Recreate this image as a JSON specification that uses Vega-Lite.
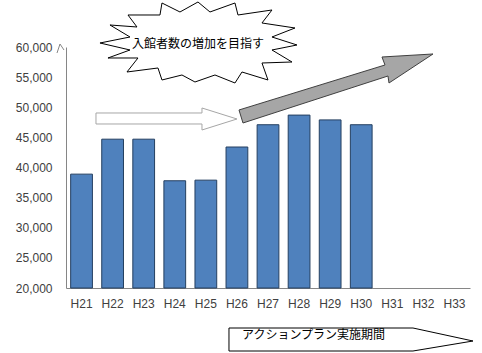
{
  "$schema": "https://vega.github.io/schema/vega-lite/v6.json",
  "width": 404,
  "height": 241,
  "autosize": {"type": "none"},
  "padding": {"left": 66, "top": 47, "right": 12, "bottom": 65},
  "background": "white",
  "config": {"view": {"stroke": null}},
  "layer": [
    {
      "data": {"values": [
        {"year": "H21", "value": 38900},
        {"year": "H22", "value": 44700},
        {"year": "H23", "value": 44700},
        {"year": "H24", "value": 37800},
        {"year": "H25", "value": 37900},
        {"year": "H26", "value": 43400},
        {"year": "H27", "value": 47100},
        {"year": "H28", "value": 48700},
        {"year": "H29", "value": 47900},
        {"year": "H30", "value": 47100}
      ]},
      "mark": {"type": "bar", "fill": "#4f81bd", "stroke": "#243f60", "strokeWidth": 1},
      "encoding": {
        "x": {
          "field": "year", "type": "nominal",
          "scale": {"domain": ["H21","H22","H23","H24","H25","H26","H27","H28","H29","H30","H31","H32","H33"], "paddingInner": 0.3, "paddingOuter": 0.15},
          "axis": {"title": null, "labelAngle": 0, "ticks": false, "grid": false, "domainColor": "#868686", "labelFont": "Liberation Sans", "labelFontSize": 12, "labelColor": "#404040", "labelPadding": 10}
        },
        "y": {
          "field": "value", "type": "quantitative",
          "scale": {"domain": [20000, 60000], "zero": false, "nice": false},
          "axis": {"title": null, "values": [20000, 25000, 30000, 35000, 40000, 45000, 50000, 55000, 60000], "format": ",.0f", "ticks": false, "grid": false, "domainColor": "#868686", "labelFont": "Liberation Sans", "labelFontSize": 12, "labelColor": "#404040", "labelPadding": 14}
        },
        "y2": {"datum": 20000}
      }
    },
    {
      "data": {"values": [{"pos": 20.468, "value": 60000}]},
      "mark": {"type": "point", "shape": "M-8,6 L-5,-3 L-1,3", "size": 4, "filled": false, "fill": null, "stroke": "#868686", "strokeWidth": 1, "opacity": 1},
      "encoding": {
        "x": {"field": "pos", "type": "quantitative", "scale": {"domain": [20.5, 33.5], "nice": false, "zero": false}, "axis": null},
        "y": {"field": "value", "type": "quantitative", "scale": {"domain": [20000, 60000], "zero": false, "nice": false}, "axis": null}
      }
    },
    {
      "data": {"values": [{"pos": 24.747, "value": 60664}]},
      "mark": {"type": "point", "shape": "M-98,0 L-68,-6 L-88,-18 L-61,-16 L-70,-28 L-38,-28 L-36,-40 L-18,-31 L0,-41 L12,-31 L37,-40 L40,-28 L74,-33 L64,-20 L97,-15 L74,-6 L99,2 L74,7 L94,19 L64,20 L70,37 L44,29 L37,40 L17,32 L-3,39 L-16,32 L-36,37 L-40,25 L-71,29 L-60,15 L-90,15 L-68,7 Z", "size": 4, "filled": true, "fill": "white", "stroke": "#000000", "strokeWidth": 1, "opacity": 1},
      "encoding": {
        "x": {"field": "pos", "type": "quantitative", "scale": {"domain": [20.5, 33.5], "nice": false, "zero": false}, "axis": null},
        "y": {"field": "value", "type": "quantitative", "scale": {"domain": [20000, 60000], "zero": false, "nice": false}, "axis": null}
      }
    },
    {
      "data": {"values": [{"pos": 24.75, "value": 60498, "label": "入館者数の増加を目指す"}]},
      "mark": {"type": "text", "font": "Noto Sans CJK JP", "fontSize": 12, "color": "#000000", "align": "center", "baseline": "middle"},
      "encoding": {
        "x": {"field": "pos", "type": "quantitative", "scale": {"domain": [20.5, 33.5], "nice": false, "zero": false}, "axis": null},
        "y": {"field": "value", "type": "quantitative", "scale": {"domain": [20000, 60000], "zero": false, "nice": false}, "axis": null},
        "text": {"field": "label"}
      }
    },
    {
      "data": {"values": [{"pos": 23.717, "value": 48050}]},
      "mark": {"type": "point", "shape": "M-70,-6 L36,-6 L36,-11 L71,0 L36,11 L36,5 L-70,5 Z", "size": 4, "filled": true, "fill": "white", "stroke": "#a6a6a6", "strokeWidth": 1, "opacity": 1},
      "encoding": {
        "x": {"field": "pos", "type": "quantitative", "scale": {"domain": [20.5, 33.5], "nice": false, "zero": false}, "axis": null},
        "y": {"field": "value", "type": "quantitative", "scale": {"domain": [20000, 60000], "zero": false, "nice": false}, "axis": null}
      }
    },
    {
      "data": {"values": [{"pos": 26.131, "value": 48382}]},
      "mark": {"type": "point", "shape": "M-2,-7 L144,-52 L141,-60 L192,-63 L148,-34 L147,-41 L2,6 Z", "size": 4, "filled": true, "fill": "#a6a6a6", "stroke": "#404040", "strokeWidth": 1, "opacity": 1},
      "encoding": {
        "x": {"field": "pos", "type": "quantitative", "scale": {"domain": [20.5, 33.5], "nice": false, "zero": false}, "axis": null},
        "y": {"field": "value", "type": "quantitative", "scale": {"domain": [20000, 60000], "zero": false, "nice": false}, "axis": null}
      }
    },
    {
      "data": {"values": [{"pos": 29.638, "value": 11369}]},
      "mark": {"type": "point", "shape": "M-121,-12 L63,-12 L123,1 L63,11 L-121,11 Z", "size": 4, "filled": true, "fill": "white", "stroke": "#000000", "strokeWidth": 1, "opacity": 1},
      "encoding": {
        "x": {"field": "pos", "type": "quantitative", "scale": {"domain": [20.5, 33.5], "nice": false, "zero": false}, "axis": null},
        "y": {"field": "value", "type": "quantitative", "scale": {"domain": [20000, 60000], "zero": false, "nice": false}, "axis": null}
      }
    },
    {
      "data": {"values": [{"pos": 26.163, "value": 12199, "label": "アクションプラン実施期間"}]},
      "mark": {"type": "text", "font": "Noto Sans CJK JP", "fontSize": 12, "color": "#000000", "align": "left", "baseline": "middle"},
      "encoding": {
        "x": {"field": "pos", "type": "quantitative", "scale": {"domain": [20.5, 33.5], "nice": false, "zero": false}, "axis": null},
        "y": {"field": "value", "type": "quantitative", "scale": {"domain": [20000, 60000], "zero": false, "nice": false}, "axis": null},
        "text": {"field": "label"}
      }
    }
  ],
  "resolve": {"scale": {"x": "independent"}, "axis": {"x": "independent", "y": "independent"}}
}
